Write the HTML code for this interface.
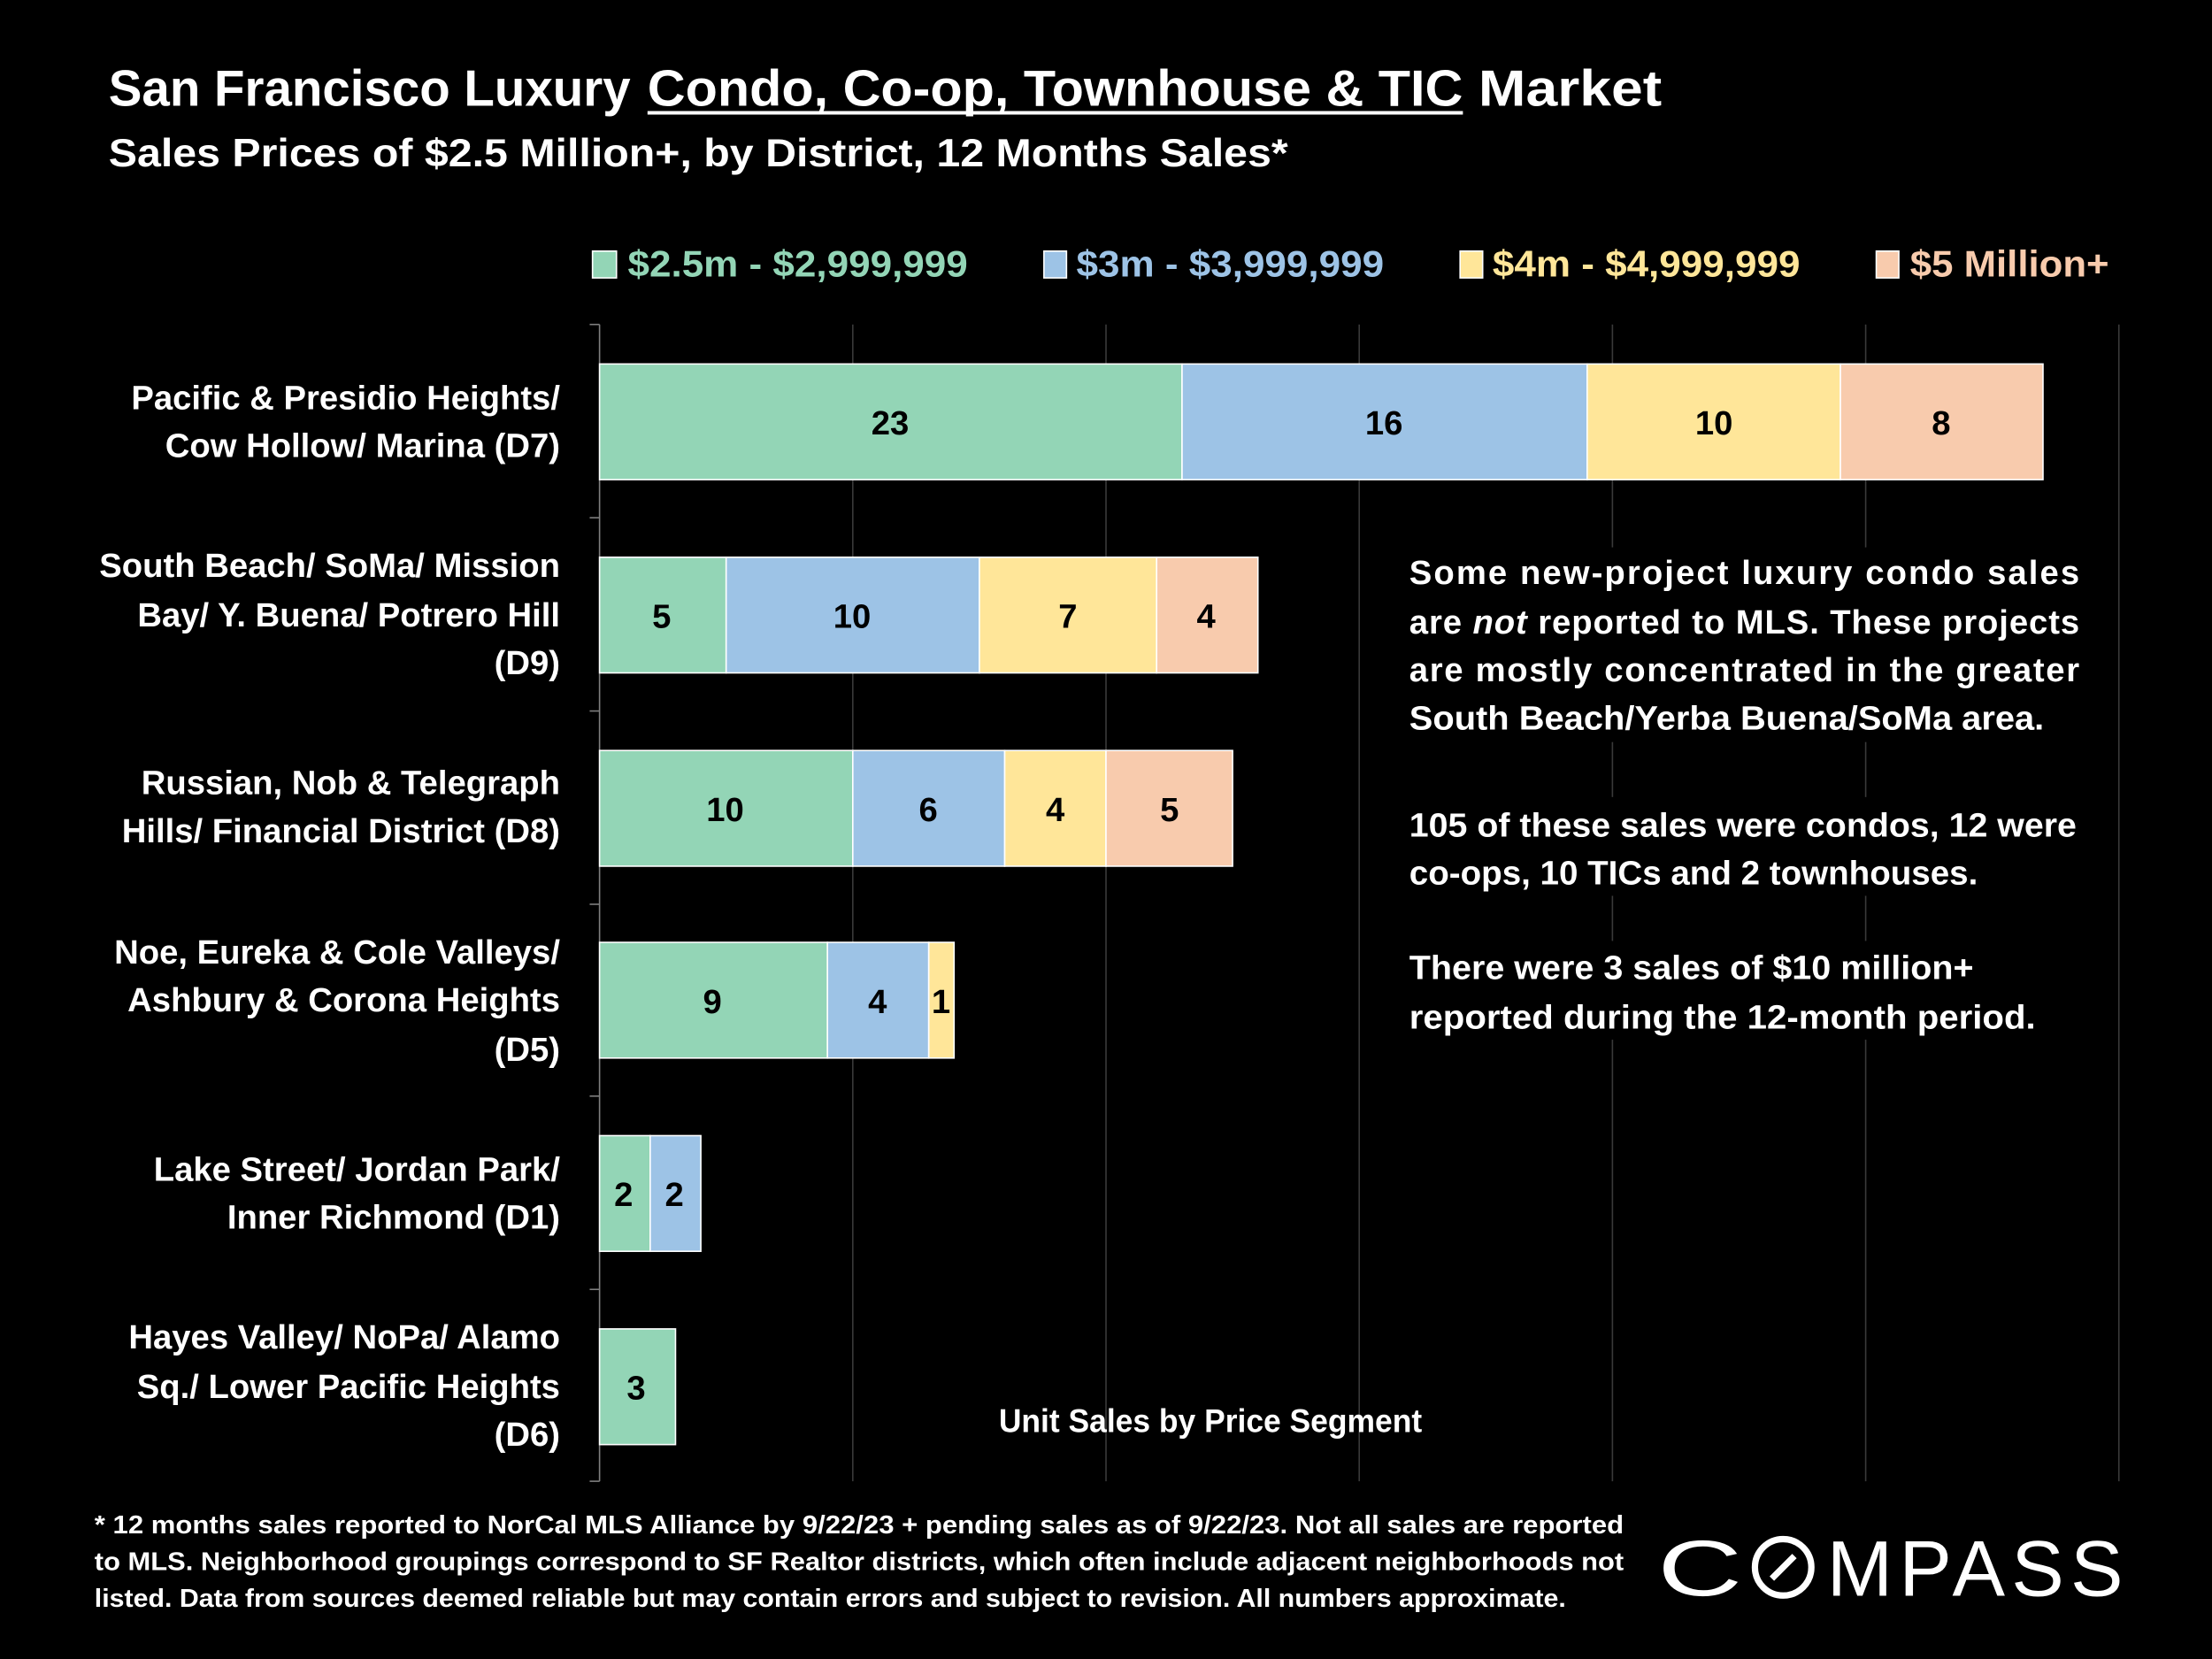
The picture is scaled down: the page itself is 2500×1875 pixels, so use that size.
<!DOCTYPE html>
<html><head><meta charset="utf-8"><style>
html,body{margin:0;padding:0;background:#000;}
svg{display:block;}
text{font-family:"Liberation Sans",sans-serif;font-weight:bold;}
</style></head><body>
<svg width="2500" height="1875" viewBox="0 0 1568 1176" xmlns="http://www.w3.org/2000/svg">
<rect width="1568" height="1176" fill="#000"/>
<!-- Title -->
<text x="77" y="75" font-size="36" fill="#fff" textLength="370" lengthAdjust="spacingAndGlyphs">San Francisco Luxury</text>
<text x="459" y="75" font-size="36" fill="#fff" textLength="578" lengthAdjust="spacingAndGlyphs">Condo, Co-op, Townhouse &amp; TIC</text>
<text x="1048" y="75" font-size="36" fill="#fff" textLength="130" lengthAdjust="spacingAndGlyphs">Market</text>
<line x1="459" y1="80" x2="1037" y2="80" stroke="#fff" stroke-width="2.5"/>
<text x="77" y="118" font-size="28" fill="#fff" textLength="836" lengthAdjust="spacingAndGlyphs">Sales Prices of $2.5 Million+, by District, 12 Months Sales*</text>
<!-- Legend -->
<rect x="420" y="178" width="17" height="19" fill="#93d5b6" stroke="#fff" stroke-width="1"/>
<text x="445" y="196" font-size="26" fill="#93d5b6" textLength="241" lengthAdjust="spacingAndGlyphs">$2.5m - $2,999,999</text>
<rect x="740" y="178" width="16" height="19" fill="#9dc3e6" stroke="#fff" stroke-width="1"/>
<text x="763" y="196" font-size="26" fill="#9dc3e6" textLength="218" lengthAdjust="spacingAndGlyphs">$3m - $3,999,999</text>
<rect x="1035" y="178" width="16" height="19" fill="#ffe699" stroke="#fff" stroke-width="1"/>
<text x="1058" y="196" font-size="26" fill="#ffe699" textLength="218" lengthAdjust="spacingAndGlyphs">$4m - $4,999,999</text>
<rect x="1330" y="178" width="16" height="19" fill="#f8cbad" stroke="#fff" stroke-width="1"/>
<text x="1354" y="196" font-size="26" fill="#f8cbad" textLength="141" lengthAdjust="spacingAndGlyphs">$5 Million+</text>
<!-- Gridlines -->
<g stroke="#3a3a3a" stroke-width="1">
<line x1="604.5" y1="230" x2="604.5" y2="1050"/>
<line x1="784" y1="230" x2="784" y2="1050"/>
<line x1="963.5" y1="230" x2="963.5" y2="1050"/>
<line x1="1143" y1="230" x2="1143" y2="1050"/>
<line x1="1322.5" y1="230" x2="1322.5" y2="1050"/>
<line x1="1502" y1="230" x2="1502" y2="1050"/>
</g>
<g stroke="#7f7f7f" stroke-width="1">
<line x1="425" y1="230" x2="425" y2="1050"/>
<line x1="418" y1="230" x2="425" y2="230"/>
<line x1="418" y1="367" x2="425" y2="367"/>
<line x1="418" y1="504" x2="425" y2="504"/>
<line x1="418" y1="641" x2="425" y2="641"/>
<line x1="418" y1="777" x2="425" y2="777"/>
<line x1="418" y1="914" x2="425" y2="914"/>
<line x1="418" y1="1050" x2="425" y2="1050"/>
</g>
<!-- Bars -->
<g stroke="#fff" stroke-width="1">
<rect x="425" y="258" width="412.9" height="82" fill="#93d5b6"/>
<rect x="837.9" y="258" width="287.2" height="82" fill="#9dc3e6"/>
<rect x="1125.1" y="258" width="179.5" height="82" fill="#ffe699"/>
<rect x="1304.6" y="258" width="143.6" height="82" fill="#f8cbad"/>

<rect x="425" y="395" width="89.75" height="82" fill="#93d5b6"/>
<rect x="514.75" y="395" width="179.5" height="82" fill="#9dc3e6"/>
<rect x="694.25" y="395" width="125.65" height="82" fill="#ffe699"/>
<rect x="819.9" y="395" width="71.8" height="82" fill="#f8cbad"/>

<rect x="425" y="532" width="179.5" height="82" fill="#93d5b6"/>
<rect x="604.5" y="532" width="107.7" height="82" fill="#9dc3e6"/>
<rect x="712.2" y="532" width="71.8" height="82" fill="#ffe699"/>
<rect x="784" y="532" width="89.75" height="82" fill="#f8cbad"/>

<rect x="425" y="668" width="161.55" height="82" fill="#93d5b6"/>
<rect x="586.55" y="668" width="71.8" height="82" fill="#9dc3e6"/>
<rect x="658.35" y="668" width="17.95" height="82" fill="#ffe699"/>

<rect x="425" y="805" width="35.9" height="82" fill="#93d5b6"/>
<rect x="460.9" y="805" width="35.9" height="82" fill="#9dc3e6"/>

<rect x="425" y="942" width="53.85" height="82" fill="#93d5b6"/>
</g>
<g font-size="24" fill="#000" text-anchor="middle">
<text x="631" y="308">23</text><text x="981" y="308">16</text><text x="1215" y="308">10</text><text x="1376" y="308">8</text>
<text x="469" y="445">5</text><text x="604" y="445">10</text><text x="757" y="445">7</text><text x="855" y="445">4</text>
<text x="514" y="582">10</text><text x="658" y="582">6</text><text x="748" y="582">4</text><text x="829" y="582">5</text>
<text x="505" y="718">9</text><text x="622" y="718">4</text><text x="667" y="718">1</text>
<text x="442" y="855">2</text><text x="478" y="855">2</text>
<text x="451" y="992">3</text>
</g>
<!-- Category labels -->
<g font-size="24" fill="#fff" text-anchor="end">
<text x="397" y="290">Pacific &amp; Presidio Heights/</text>
<text x="397" y="324">Cow Hollow/ Marina (D7)</text>
<text x="397" y="409">South Beach/ SoMa/ Mission</text>
<text x="397" y="444">Bay/ Y. Buena/ Potrero Hill</text>
<text x="397" y="478">(D9)</text>
<text x="397" y="563">Russian, Nob &amp; Telegraph</text>
<text x="397" y="597">Hills/ Financial District (D8)</text>
<text x="397" y="683">Noe, Eureka &amp; Cole Valleys/</text>
<text x="397" y="717">Ashbury &amp; Corona Heights</text>
<text x="397" y="752">(D5)</text>
<text x="397" y="837">Lake Street/ Jordan Park/</text>
<text x="397" y="871">Inner Richmond (D1)</text>
<text x="397" y="956">Hayes Valley/ NoPa/ Alamo</text>
<text x="397" y="991">Sq./ Lower Pacific Heights</text>
<text x="397" y="1025">(D6)</text>
</g>
<!-- Text box -->
<rect x="990" y="388" width="492" height="138" fill="#000"/>
<rect x="990" y="565" width="492" height="70" fill="#000"/>
<rect x="990" y="667" width="492" height="70" fill="#000"/>
<g font-size="24" fill="#fff">
<text x="999" y="414" textLength="475" lengthAdjust="spacing">Some new-project luxury condo sales</text>
<text x="999" y="449" textLength="475" lengthAdjust="spacing">are <tspan font-style="italic">not</tspan> reported to MLS. These projects</text>
<text x="999" y="483" textLength="475" lengthAdjust="spacing">are mostly concentrated in the greater</text>
<text x="999" y="517" textLength="450" lengthAdjust="spacingAndGlyphs">South Beach/Yerba Buena/SoMa area.</text>
<text x="999" y="593" textLength="473" lengthAdjust="spacingAndGlyphs">105 of these sales were condos, 12 were</text>
<text x="999" y="627" textLength="403" lengthAdjust="spacingAndGlyphs">co-ops, 10 TICs and 2 townhouses.</text>
<text x="999" y="694" textLength="400" lengthAdjust="spacingAndGlyphs">There were 3 sales of $10 million+</text>
<text x="999" y="729" textLength="444" lengthAdjust="spacingAndGlyphs">reported during the 12-month period.</text>
</g>
<text x="858" y="1015" font-size="23" fill="#fff" text-anchor="middle" textLength="300" lengthAdjust="spacingAndGlyphs">Unit Sales by Price Segment</text>
<!-- Footnote -->
<g font-size="18" fill="#fff">
<text x="67" y="1087" textLength="1084" lengthAdjust="spacingAndGlyphs">* 12 months sales reported to NorCal MLS Alliance by 9/22/23 + pending sales as of 9/22/23. Not all sales are reported</text>
<text x="67" y="1113" textLength="1084" lengthAdjust="spacingAndGlyphs">to MLS. Neighborhood groupings correspond to SF Realtor districts, which often include adjacent neighborhoods not</text>
<text x="67" y="1139" textLength="1043" lengthAdjust="spacingAndGlyphs">listed. Data from sources deemed reliable but may contain errors and subject to revision. All numbers approximate.</text>
</g>
<!-- COMPASS logo -->
<g fill="none" stroke="#fff" stroke-width="4.5">
<circle cx="1264" cy="1111" r="20"/>
<line x1="1256" y1="1119" x2="1272" y2="1103"/>
</g>
<text x="1175" y="1131" font-size="56" fill="#fff" style="font-weight:normal" textLength="60" lengthAdjust="spacingAndGlyphs">C</text>
<text x="1295" y="1131" font-size="56" fill="#fff" style="font-weight:normal" textLength="210" lengthAdjust="spacing">MPASS</text>
</svg>
</body></html>
